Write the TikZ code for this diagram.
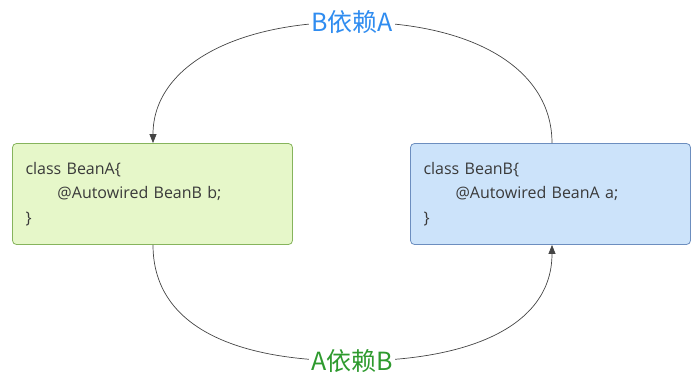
\documentclass[tikz,border=0pt]{standalone}
\usepackage{fontspec}
\setmainfont{Open Sans}
\newfontfamily\cjk{Noto Sans CJK SC}
\usetikzlibrary{arrows.meta}
\definecolor{gfill}{HTML}{E6F7C9}
\definecolor{gline}{HTML}{86B45C}
\definecolor{bfill}{HTML}{CCE3FA}
\definecolor{bline}{HTML}{6C8EBF}
\definecolor{txt}{HTML}{3A3A3A}
\definecolor{lblue}{HTML}{2F8CF0}
\definecolor{lgreen}{HTML}{2E9A2E}
\definecolor{edge}{HTML}{444444}
\tikzset{
  beanbox/.style={draw, rounded corners=4pt, line width=0.8pt, minimum width=280pt, minimum height=101pt,
    text width=254pt, align=left, font=\fontsize{16pt}{24.5pt}\selectfont, text=txt, inner sep=0pt},
  dep/.style={draw=edge, line width=0.7pt, -{Triangle[length=9pt,width=7pt]}},
  deplabel/.style={fill=white, inner sep=2pt, font=\cjk\fontsize{25pt}{27pt}\selectfont}
}
\begin{document}
\begin{tikzpicture}[x=1pt,y=-1pt]
\useasboundingbox (0,0) rectangle (691,378);
\node[beanbox, fill=gfill, draw=gline] (a) at (152.5,194) {class BeanA\{\\\hspace*{32pt}@Autowired BeanB b;\\\}};
\node[beanbox, fill=bfill, draw=bline] (b) at (550.5,194) {class BeanB\{\\\hspace*{32pt}@Autowired BeanA a;\\\}};
\coordinate (top) at (352,22);
\coordinate (bot) at (352,361);
\draw[dep] ([xshift=1.5pt]b.north) .. controls ([xshift=1.5pt,yshift=75pt]b.north) and (472,22) .. (top)
  .. controls (232,22) and ([xshift=0.5pt,yshift=75pt]a.north) .. ([xshift=0.5pt]a.north);
\draw[dep] ([xshift=0.5pt]a.south) .. controls ([xshift=0.5pt,yshift=-80pt]a.south) and (232,361) .. (bot)
  .. controls (472,361) and ([xshift=1.5pt,yshift=-80pt]b.south) .. ([xshift=1.5pt]b.south);
\node[deplabel, text=lblue] (l1) at (top) {B依赖A};
\node[deplabel, text=lgreen] (l2) at (bot) {A依赖B};
\end{tikzpicture}
\end{document}
